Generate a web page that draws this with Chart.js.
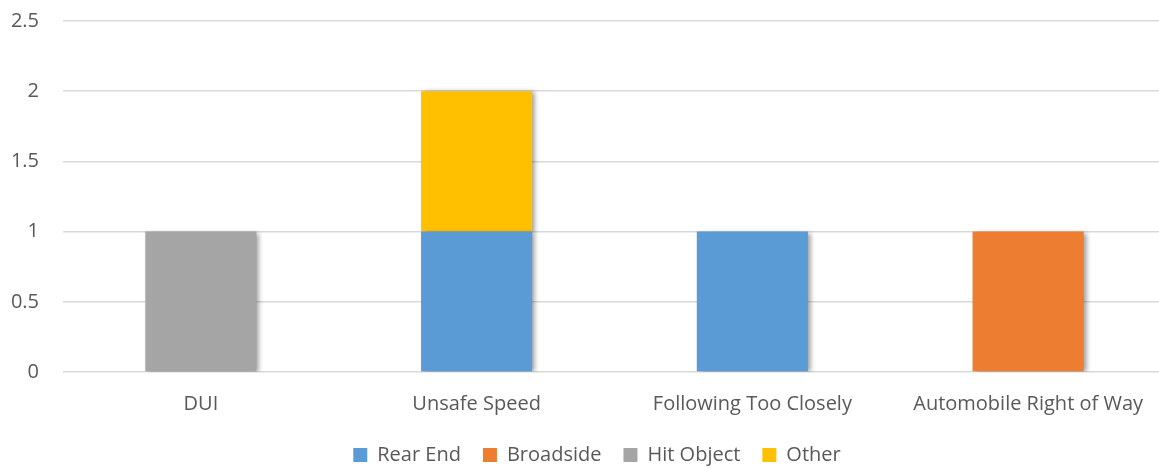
<!DOCTYPE html>
<html>
<head>
<meta charset="utf-8">
<script src="https://cdn.jsdelivr.net/npm/chart.js@4/dist/chart.umd.min.js"></script>
<style>
html,body{margin:0;padding:0;background:#fff;overflow:hidden;}
#wrap{width:1159px;height:468px;position:relative;overflow:hidden;}
#c{position:absolute;left:0;top:-15px;}
</style>
</head>
<body>
<div id="wrap"><canvas id="c" width="1166" height="490"></canvas></div>
<script>
const categories = ["DUI", "Unsafe Speed", "Following Too Closely", "Automobile Right of Way"];
const rearEnd   = [0, 1, 1, 0];
const broadside = [0, 0, 0, 1];
const hitObject = [1, 0, 0, 0];
const other     = [0, 1, 0, 0];

const FONT = "'Open Sans', 'Liberation Sans', sans-serif";
const TEXT = '#595959';

const shadowPlugin = {
  id: 'barShadow',
  afterLayout(chart) {
    if (chart.legend) chart.legend.left += 28;
  },
  beforeDatasetDraw(chart) {
    const ctx = chart.ctx;
    ctx.save();
    ctx.shadowColor = 'rgba(0,0,0,0.4)';
    ctx.shadowBlur = 5;
    ctx.shadowOffsetX = 3;
    ctx.shadowOffsetY = 1;
  },
  afterDatasetDraw(chart) {
    chart.ctx.restore();
  }
};

new Chart(document.getElementById('c'), {
  type: 'bar',
  data: {
    labels: categories,
    datasets: [
      { label: 'Rear End', data: rearEnd, backgroundColor: '#5B9BD5' },
      { label: 'Broadside', data: broadside, backgroundColor: '#ED7D31' },
      { label: 'Hit Object', data: hitObject, backgroundColor: '#A5A5A5' },
      { label: 'Other', data: other, backgroundColor: '#FFC000' }
    ]
  },
  options: {
    responsive: false,
    animation: false,
    devicePixelRatio: 1,
    layout: { padding: 0 },
    datasets: { bar: { barPercentage: 1, categoryPercentage: 0.403 } },
    scales: {
      x: {
        stacked: true,
        grid: { display: false, drawTicks: false },
        border: { display: false },
        ticks: { color: TEXT, font: { family: FONT, size: 20 }, padding: 20, maxRotation: 0, autoSkip: false },
        afterFit(s) { s.height = 51; }
      },
      y: {
        stacked: true,
        min: 0, max: 2.5,
        grid: { color: '#D9D9D9', lineWidth: 1.5, drawTicks: false },
        border: { display: false },
        ticks: { stepSize: 0.5, color: TEXT, font: { family: FONT, size: 20 }, padding: 24,
                 callback: v => String(v) },
        afterFit(s) { s.width = 63; }
      }
    },
    plugins: {
      legend: {
        position: 'bottom',
        labels: { color: TEXT, font: { family: FONT, size: 20 }, boxWidth: 14, boxHeight: 14, padding: 22 }
      },
      tooltip: { enabled: false }
    }
  },
  plugins: [shadowPlugin]
});
</script>
</body>
</html>
